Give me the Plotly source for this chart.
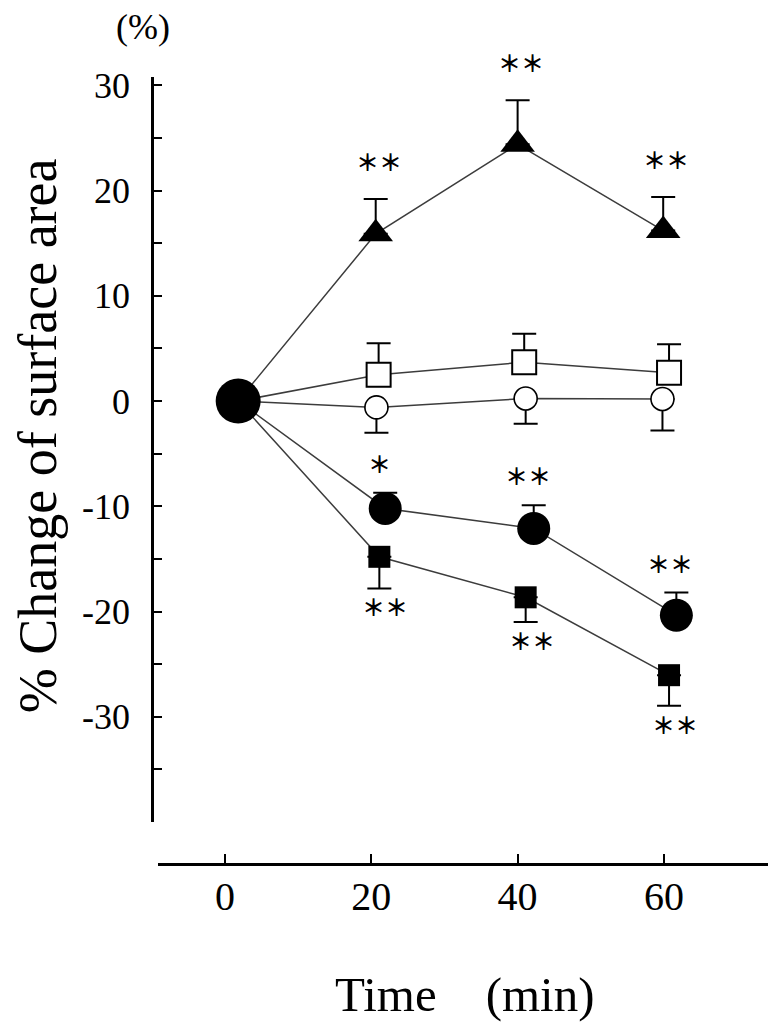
import plotly.graph_objects as go

# ---------------- data ----------------
start_x = [1.8]
start_y = [0.0]

tri_x = [20.6, 40.0, 59.9]
tri_y = [15.9, 24.4, 16.2]
tri_err = [3.3, 4.2, 3.2]           # upward bars
tri_sig = ["＊＊", "＊＊", "＊＊"]

osq_x = [21.0, 40.9, 60.7]
osq_y = [2.5, 3.7, 2.7]
osq_err = [3.0, 2.7, 2.7]           # upward bars

oci_x = [20.7, 41.1, 59.8]
oci_y = [-0.6, 0.25, 0.2]
oci_err = [2.4, 2.4, 3.0]           # downward bars

fci_x = [21.9, 42.2, 61.7]
fci_y = [-10.2, -12.1, -20.35]
fci_err = [1.5, 2.2, 2.15]          # upward bars
fci_sig = ["＊", "＊＊", "＊＊"]

fsq_x = [21.1, 41.1, 60.7]
fsq_y = [-14.8, -18.65, -26.05]
fsq_err = [3.0, 2.35, 2.9]          # downward bars
fsq_sig = ["＊＊", "＊＊", "＊＊"]

x_tickvals = [0, 20, 40, 60]
x_ticktext = ["0", "20", "40", "60"]
y_tickvals = [-40, -35, -30, -25, -20, -15, -10, -5, 0, 5, 10, 15, 20, 25, 30]
y_ticktext = ["", "", "-30", "", "-20", "", "-10", "", "0", "", "10", "", "20", "", "30"]

# ---------------- figure ----------------
SERIF = "Liberation Serif, Times New Roman, serif"
LINE_COL = "#3c3c3c"

fig = go.Figure()


def add_series(xs, ys, err, up, symbol, size, fill, line_w):
    x = start_x + xs
    y = start_y + ys
    if up:
        e = dict(type="data", symmetric=False, array=[None] + err,
                 arrayminus=[None] + [0] * len(err))
    else:
        e = dict(type="data", symmetric=False, array=[None] + [0] * len(err),
                 arrayminus=[None] + err)
    e.update(color="black", thickness=2, width=12)
    fig.add_trace(go.Scatter(
        x=x, y=y, mode="lines+markers",
        line=dict(color=LINE_COL, width=1.5),
        marker=dict(symbol=symbol, size=[0] + [size] * len(xs), color=fill,
                    opacity=1,
                    line=dict(color="black", width=line_w)),
        error_y=e, showlegend=False, cliponaxis=False,
    ))


add_series(tri_x, tri_y, tri_err, True, "triangle-up", 30, "black", 0)
add_series(osq_x, osq_y, osq_err, True, "square", 24, "white", 2)
add_series(oci_x, oci_y, oci_err, False, "circle", 23, "white", 1.6)
add_series(fci_x, fci_y, fci_err, True, "circle", 33, "black", 0)
add_series(fsq_x, fsq_y, fsq_err, False, "square", 22, "black", 0)

# common start point
fig.add_trace(go.Scatter(x=start_x, y=start_y, mode="markers",
                         marker=dict(symbol="circle", size=45, color="black", opacity=1),
                         showlegend=False, cliponaxis=False))

# significance marks
ast_font = dict(family="Noto Sans CJK JP", size=23, color="black", weight="bold")
for xs, ys, errs, sigs, sign, yshift, xshift in [
    (tri_x, tri_y, tri_err, tri_sig, 1, 38, 3),
    (fci_x, fci_y, fci_err, fci_sig, 1, 30, -6),
    (fsq_x, fsq_y, fsq_err, fsq_sig, -1, -18, 6),
]:
    for xv, yv, ev, s in zip(xs, ys, errs, sigs):
        fig.add_annotation(x=xv, y=yv + sign * ev, xref="x", yref="y",
                           text=s, showarrow=False, font=ast_font,
                           xanchor="center", yanchor="middle",
                           yshift=yshift, xshift=xshift)

# axis titles / unit
fig.add_annotation(text="% Change of surface area", xref="paper", yref="paper",
                   x=-0.184, y=0.544, textangle=-90, showarrow=False,
                   xanchor="center", yanchor="middle", borderpad=0,
                   font=dict(family=SERIF, size=54, color="black"))
fig.add_annotation(text="Time\u00a0\u00a0\u00a0\u00a0(min)", xref="paper", yref="paper",
                   x=0.507, y=-0.166, showarrow=False,
                   xanchor="center", yanchor="middle",
                   font=dict(family=SERIF, size=49, color="black"))
fig.add_annotation(text="(%)", xref="paper", yref="paper",
                   x=-0.015, y=1.064, showarrow=False,
                   xanchor="center", yanchor="middle", borderpad=0,
                   font=dict(family=SERIF, size=36, color="black"))

fig.update_layout(
    width=776, height=1026,
    margin=dict(l=144, r=14, t=69, b=170),
    paper_bgcolor="white", plot_bgcolor="white",
    font=dict(family=SERIF, color="black"),
    xaxis=dict(range=[-9.16, 74.5], domain=[0.0097, 1], anchor="free", position=0,
               tickvals=x_tickvals, ticktext=x_ticktext,
               ticks="inside", ticklen=9, tickwidth=2, tickcolor="black",
               showline=True, linecolor="black", linewidth=2.5,
               showgrid=False, zeroline=False,
               tickfont=dict(family=SERIF, size=40, color="black"),
               ticklabelstandoff=-4),
    yaxis=dict(range=[-40, 30.8], domain=[0.0534, 1], anchor="free", position=0,
               tickvals=y_tickvals, ticktext=y_ticktext,
               ticks="inside", ticklen=8, tickwidth=2, tickcolor="black",
               showline=True, linecolor="black", linewidth=2.5,
               showgrid=False, zeroline=False,
               tickfont=dict(family=SERIF, size=36, color="black"),
               ticklabelstandoff=14),
)

fig.write_html("out.html")
